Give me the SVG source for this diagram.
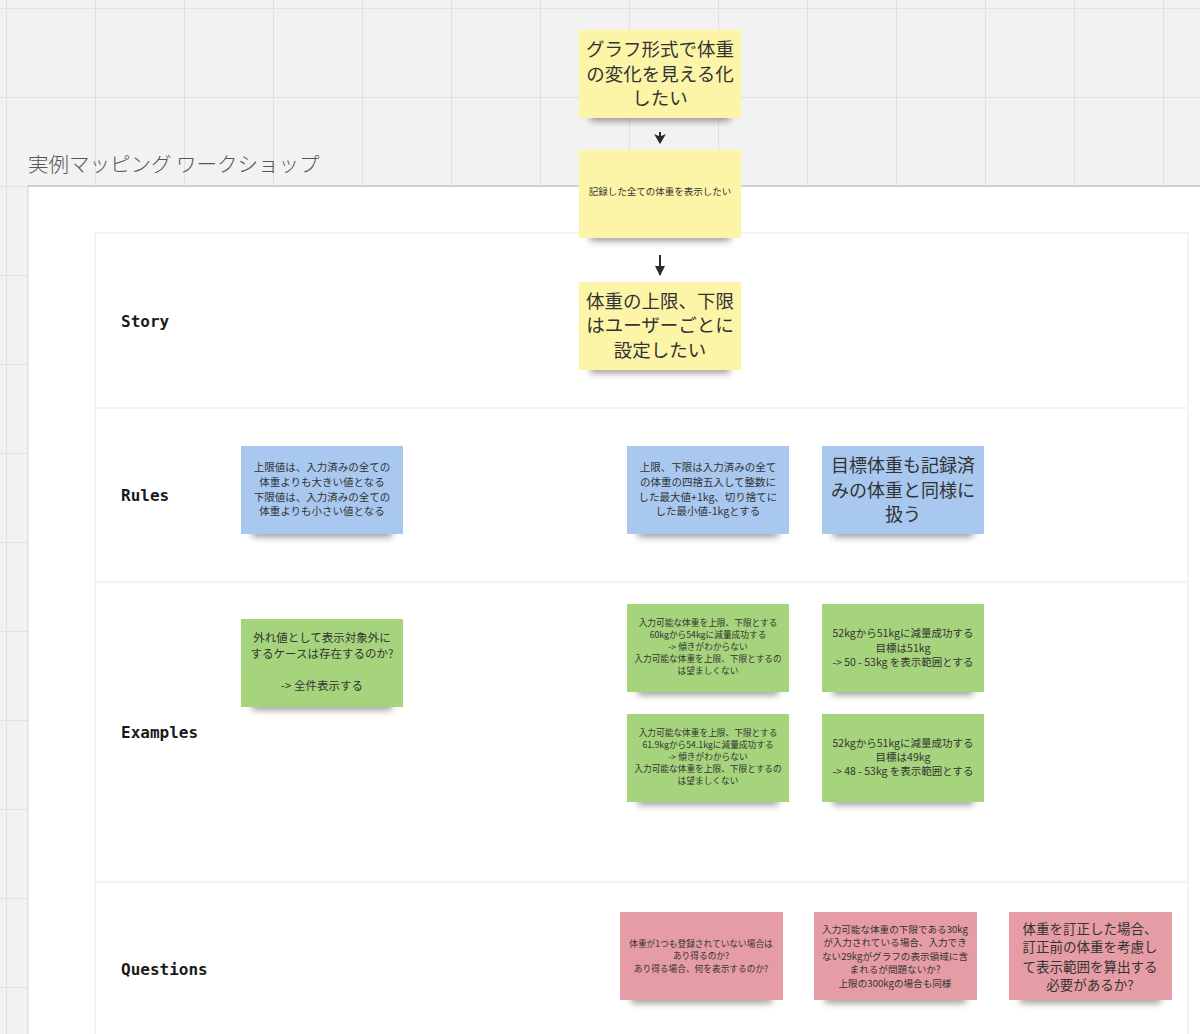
<svg xmlns="http://www.w3.org/2000/svg" width="1200" height="1034" viewBox="0 0 1200 1034">
<defs>
<pattern id="grid" x="6" y="8" width="89" height="89" patternUnits="userSpaceOnUse">
<path d="M0 0 H89 M0 0 V89" fill="none" stroke="#e1e1e1" stroke-width="2"/>
</pattern>
<filter id="sh" x="-20%" y="-150%" width="140%" height="400%">
<feGaussianBlur stdDeviation="3.5"/>
</filter>
<marker id="ah" viewBox="0 0 10 10" refX="9" refY="5" markerWidth="10" markerHeight="10" markerUnits="userSpaceOnUse" orient="auto">
<path d="M0 0 L10 5 L0 10 z" fill="#2a2a2a"/>
</marker>
<marker id="ah2" viewBox="0 0 10 12" refX="9" refY="6" markerWidth="10" markerHeight="12" markerUnits="userSpaceOnUse" orient="auto">
<path d="M0 0 L10 6 L0 12 L2.5 6 z" fill="#2a2a2a"/>
</marker>
<style>
.jp{font-family:"Noto Sans CJK JP","Noto Sans",sans-serif;fill:#333;text-anchor:middle;dominant-baseline:central}
.lbl{font-family:"DejaVu Sans Mono","Liberation Mono",monospace;font-weight:bold;font-size:16px;fill:#1a1a1a;dominant-baseline:central}
.shadow{fill:#000;opacity:.4;filter:url(#sh)}
.y{fill:#fcf5a7}
.b{fill:#a9c8ef}
.g{fill:#a5d47c}
.p{fill:#e69ca4}
.s19{font-size:18.5px}
.s10{font-size:10.5px}
.s9{font-size:8.7px}
</style>
</defs>
<rect width="1200" height="1034" fill="#f2f2f2"/>
<rect width="1200" height="1034" fill="url(#grid)"/>
<text x="28" y="163" style="font-family:'Noto Sans CJK JP','Noto Sans',sans-serif;font-size:20.5px;font-weight:300;fill:#555;dominant-baseline:central">実例マッピング ワークショップ</text>
<rect x="28" y="186" width="1190" height="870" fill="#fff" stroke="#d6d6d6" stroke-width="1"/>
<line x1="28" y1="186" x2="1200" y2="186" stroke="#d0d0d0" stroke-width="2"/>
<g id="table" fill="none" stroke="#efefef" stroke-width="1.5">
<rect x="95" y="233" width="1093" height="820"/>
<line x1="95" y1="408" x2="1188" y2="408"/>
<line x1="95" y1="582" x2="1188" y2="582"/>
<line x1="95" y1="882" x2="1188" y2="882"/>
</g>
<g id="labels">
<text class="lbl" x="121" y="321">Story</text>
<text class="lbl" x="121" y="495">Rules</text>
<text class="lbl" x="121" y="732">Examples</text>
<text class="lbl" x="121" y="969">Questions</text>
</g>
<g id="connectors" fill="none" stroke="#2a2a2a" stroke-width="2">
<path d="M660 132 V143" marker-end="url(#ah2)"/>
<path d="M660 255 V275" marker-end="url(#ah)"/>
</g>
<g id="story1">
<rect class="shadow" x="590" y="112" width="140" height="9"/>
<rect class="y" x="579" y="30" width="162" height="88"/>
<text class="jp s19" x="660" y="48">グラフ形式で体重</text>
<text class="jp s19" x="660" y="73">の変化を見える化</text>
<text class="jp s19" x="660" y="97">したい</text>
</g>
<g id="story2">
<rect class="shadow" x="590" y="232" width="140" height="9"/>
<rect class="y" x="579" y="150" width="162" height="88"/>
<text class="jp" style="font-size:9.5px" x="660" y="191">記録した全ての体重を表示したい</text>
</g>
<g id="story3">
<rect class="shadow" x="590" y="364" width="140" height="9"/>
<rect class="y" x="579" y="282" width="162" height="88"/>
<text class="jp s19" x="660" y="300">体重の上限、下限</text>
<text class="jp s19" x="660" y="324">はユーザーごとに</text>
<text class="jp s19" x="660" y="349">設定したい</text>
</g>
<g id="rule1">
<rect class="shadow" x="252" y="528" width="140" height="9"/>
<rect class="b" x="241" y="446" width="162" height="88"/>
<text class="jp s10" x="322" y="466">上限値は、入力済みの全ての</text>
<text class="jp s10" x="322" y="481">体重よりも大きい値となる</text>
<text class="jp s10" x="322" y="496">下限値は、入力済みの全ての</text>
<text class="jp s10" x="322" y="510">体重よりも小さい値となる</text>
</g>
<g id="rule2">
<rect class="shadow" x="638" y="528" width="140" height="9"/>
<rect class="b" x="627" y="446" width="162" height="88"/>
<text class="jp s10" x="708" y="466">上限、下限は入力済みの全て</text>
<text class="jp s10" x="708" y="481">の体重の四捨五入して整数に</text>
<text class="jp s10" x="708" y="496">した最大値+1kg、切り捨てに</text>
<text class="jp s10" x="708" y="510">した最小値-1kgとする</text>
</g>
<g id="rule3">
<rect class="shadow" x="833" y="528" width="140" height="9"/>
<rect class="b" x="822" y="446" width="162" height="88"/>
<text class="jp" style="font-size:18px" x="903" y="464">目標体重も記録済</text>
<text class="jp" style="font-size:18px" x="903" y="489">みの体重と同様に</text>
<text class="jp" style="font-size:18px" x="903" y="513">扱う</text>
</g>
<g id="example1">
<rect class="shadow" x="252" y="701" width="140" height="9"/>
<rect class="g" x="241" y="619" width="162" height="88"/>
<text class="jp" style="font-size:11.5px" x="322" y="637">外れ値として表示対象外に</text>
<text class="jp" style="font-size:11.5px" x="322" y="653">するケースは存在するのか?</text>
<text class="jp" style="font-size:11.5px" x="322" y="685">-&gt; 全件表示する</text>
</g>
<g id="example2">
<rect class="shadow" x="638" y="686" width="140" height="9"/>
<rect class="g" x="627" y="604" width="162" height="88"/>
<text class="jp s9" x="708" y="622">入力可能な体重を上限、下限とする</text>
<text class="jp s9" x="708" y="634">60kgから54kgに減量成功する</text>
<text class="jp s9" x="708" y="646">-&gt; 傾きがわからない</text>
<text class="jp s9" x="708" y="658">入力可能な体重を上限、下限とするの</text>
<text class="jp s9" x="708" y="670">は望ましくない</text>
</g>
<g id="example3">
<rect class="shadow" x="833" y="686" width="140" height="9"/>
<rect class="g" x="822" y="604" width="162" height="88"/>
<text class="jp s10" x="903" y="632">52kgから51kgに減量成功する</text>
<text class="jp s10" x="903" y="647">目標は51kg</text>
<text class="jp s10" x="903" y="661">-&gt; 50 - 53kg を表示範囲とする</text>
</g>
<g id="example4">
<rect class="shadow" x="638" y="796" width="140" height="9"/>
<rect class="g" x="627" y="714" width="162" height="88"/>
<text class="jp s9" x="708" y="732">入力可能な体重を上限、下限とする</text>
<text class="jp s9" x="708" y="744">61.9kgから54.1kgに減量成功する</text>
<text class="jp s9" x="708" y="756">-&gt; 傾きがわからない</text>
<text class="jp s9" x="708" y="768">入力可能な体重を上限、下限とするの</text>
<text class="jp s9" x="708" y="780">は望ましくない</text>
</g>
<g id="example5">
<rect class="shadow" x="833" y="796" width="140" height="9"/>
<rect class="g" x="822" y="714" width="162" height="88"/>
<text class="jp s10" x="903" y="742">52kgから51kgに減量成功する</text>
<text class="jp s10" x="903" y="756">目標は49kg</text>
<text class="jp s10" x="903" y="770">-&gt; 48 - 53kg を表示範囲とする</text>
</g>
<g id="question1">
<rect class="shadow" x="631" y="994" width="141" height="9"/>
<rect class="p" x="620" y="912" width="163" height="88"/>
<text class="jp s9" x="701" y="943">体重が1つも登録されていない場合は</text>
<text class="jp s9" x="701" y="955">あり得るのか?</text>
<text class="jp s9" x="701" y="968">あり得る場合、何を表示するのか?</text>
</g>
<g id="question2">
<rect class="shadow" x="825" y="994" width="141" height="9"/>
<rect class="p" x="814" y="912" width="163" height="88"/>
<text class="jp" style="font-size:9.6px" x="895" y="929">入力可能な体重の下限である30kg</text>
<text class="jp" style="font-size:9.6px" x="895" y="942">が入力されている場合、入力でき</text>
<text class="jp" style="font-size:9.6px" x="895" y="956">ない29kgがグラフの表示領域に含</text>
<text class="jp" style="font-size:9.6px" x="895" y="969">まれるが問題ないか?</text>
<text class="jp" style="font-size:9.6px" x="895" y="983">上限の300kgの場合も同様</text>
</g>
<g id="question3">
<rect class="shadow" x="1020" y="994" width="141" height="9"/>
<rect class="p" x="1009" y="912" width="163" height="88"/>
<text class="jp" style="font-size:13.5px" x="1090" y="928">体重を訂正した場合、</text>
<text class="jp" style="font-size:13.5px" x="1090" y="946">訂正前の体重を考慮し</text>
<text class="jp" style="font-size:13.5px" x="1090" y="966">て表示範囲を算出する</text>
<text class="jp" style="font-size:13.5px" x="1090" y="984">必要があるか?</text>
</g>
</svg>
